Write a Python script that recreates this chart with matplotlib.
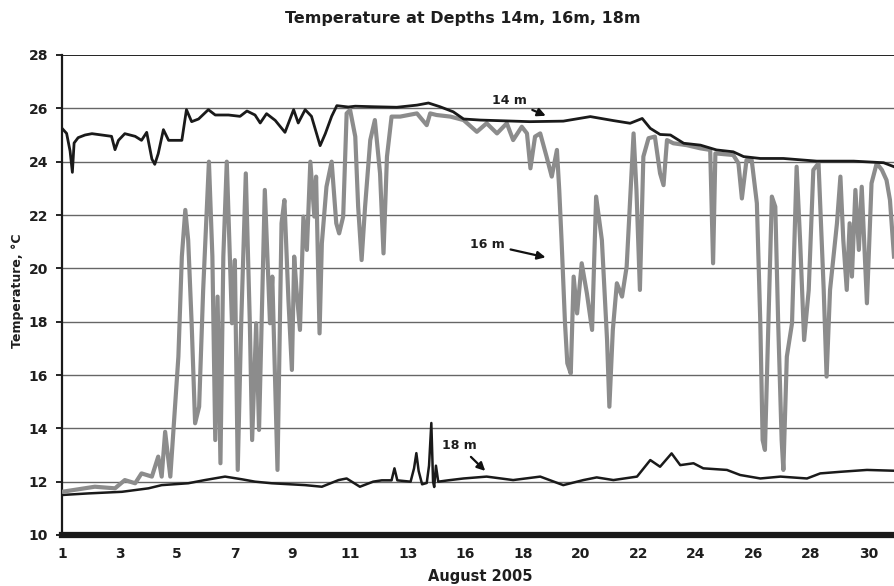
import matplotlib
matplotlib.use("Agg")
import matplotlib.pyplot as plt

# x is in tick-slot units: 0 = "1", 1 = "3", ... 14 = "30"
tick_labels = ["1", "3", "5", "7", "9", "11", "13", "16", "18", "20", "22", "24", "26", "28", "30"]

x14 = [0, 0.08, 0.14, 0.18, 0.21, 0.28, 0.40, 0.52, 0.69, 0.86, 0.92, 0.98, 1.09, 1.27, 1.38, 1.47,
       1.56, 1.61, 1.67, 1.76, 1.85, 1.96, 2.08, 2.16, 2.25, 2.37, 2.54, 2.66, 2.89, 3.09, 3.21, 3.35,
       3.44, 3.55, 3.70, 3.87, 4.02, 4.10, 4.22, 4.33, 4.48, 4.57, 4.68, 4.77, 4.97, 5.09, 5.41, 5.81,
       6.16, 6.36, 6.56, 6.79, 6.97, 7.26, 7.55, 8.12, 8.70, 9.17, 9.57, 9.86, 10.07, 10.21, 10.38,
       10.56, 10.79, 11.08, 11.36, 11.65, 11.83, 12.12, 12.52, 13.10, 13.74, 14.26, 14.44]
t14 = [25.25, 25.06, 24.4, 23.6, 24.7, 24.9, 25.0, 25.05, 25.0, 24.95, 24.45, 24.8, 25.05, 24.95, 24.8, 25.1,
       24.1, 23.9, 24.3, 25.2, 24.8, 24.8, 24.8, 25.95, 25.5, 25.6, 25.95, 25.75, 25.75, 25.7, 25.9, 25.75,
       25.45, 25.8, 25.55, 25.1, 25.95, 25.45, 25.95, 25.7, 24.6, 25.05, 25.7, 26.1, 26.05, 26.08, 26.06, 26.04,
       26.12, 26.2, 26.06, 25.87, 25.6, 25.56, 25.54, 25.5, 25.52, 25.69, 25.54, 25.44, 25.62, 25.25, 25.02,
       25.0, 24.69, 24.62, 24.44, 24.37, 24.19, 24.12, 24.12, 24.02, 24.02, 23.96, 23.81]

# 16 m, read in ten-point rows
x16 = [0, 0.57, 0.92, 1.09, 1.27, 1.38, 1.56, 1.67, 1.73, 1.79,
       1.88, 1.95, 2.02, 2.08, 2.14, 2.19, 2.25, 2.31, 2.38, 2.45,
       2.55, 2.61, 2.66, 2.70, 2.75, 2.80, 2.86, 2.95, 3.00, 3.05,
       3.11, 3.19, 3.26, 3.30, 3.37, 3.42, 3.52, 3.61, 3.65, 3.74,
       3.81, 3.86, 3.93, 3.99, 4.03, 4.07, 4.13, 4.19, 4.25, 4.31,
       4.38, 4.41, 4.47, 4.51, 4.59, 4.68, 4.76, 4.81, 4.88, 4.94,
       5.0, 5.09, 5.14, 5.20, 5.26, 5.35, 5.43, 5.52, 5.58, 5.64,
       5.72, 5.87, 6.16, 6.33, 6.39, 6.50, 6.74, 6.97, 7.20, 7.37,
       7.55, 7.72, 7.83, 7.98, 8.07, 8.13, 8.21, 8.30, 8.41, 8.50,
       8.59, 8.63, 8.67, 8.73, 8.77, 8.83, 8.88, 8.94, 9.02, 9.11,
       9.20, 9.27, 9.37, 9.46, 9.50, 9.56, 9.63, 9.72, 9.80, 9.86,
       9.92, 9.97, 10.03, 10.09, 10.18, 10.29, 10.38, 10.44, 10.50, 10.61,
       10.84, 11.08, 11.25, 11.30, 11.34, 11.65, 11.74, 11.80, 11.88, 11.97,
       12.06, 12.12, 12.16, 12.20, 12.26, 12.32, 12.38, 12.43, 12.49, 12.52,
       12.58, 12.67, 12.75, 12.81, 12.88, 12.96, 13.04, 13.13, 13.22, 13.27,
       13.33, 13.39, 13.45, 13.51, 13.56, 13.62, 13.67, 13.71, 13.77, 13.83,
       13.88, 13.97, 14.05, 14.14, 14.23, 14.31, 14.37, 14.44]
t16 = [11.62, 11.81, 11.75, 12.06, 11.94, 12.31, 12.19, 12.94, 12.19, 13.87,
       12.19, 14.44, 16.69, 20.44, 22.19, 21.06, 17.94, 14.19, 14.81, 19.19,
       24.0, 20.44, 13.56, 18.94, 12.69, 20.44, 24.0, 17.94, 20.31, 12.44,
       17.94, 23.56, 17.94, 13.56, 17.94, 13.94, 22.94, 17.94, 19.69, 12.44,
       21.69, 22.56, 18.81, 16.19, 20.44, 19.19, 17.69, 21.94, 20.69, 24.0,
       21.94, 23.44, 17.56, 20.94, 23.06, 24.0, 21.69, 21.31, 21.94, 25.81,
       25.94, 24.94, 22.31, 20.31, 22.31, 24.81, 25.56, 23.56, 20.56, 24.19,
       25.69, 25.69, 25.81, 25.37, 25.81, 25.75, 25.69, 25.56, 25.12, 25.44,
       25.06, 25.44, 24.81, 25.31, 25.06, 23.75, 24.94, 25.06, 24.19, 23.44,
       24.44, 22.94, 21.06, 17.94, 16.44, 16.06, 19.69, 18.31, 20.19, 19.06,
       17.69, 22.69, 21.06, 17.31, 14.81, 17.69, 19.44, 18.94, 20.06, 22.56,
       25.06, 22.94, 19.19, 24.19, 24.88, 24.94, 23.56, 23.12, 24.81, 24.69,
       24.62, 24.5, 24.44, 20.19, 24.31, 24.25, 23.94, 22.62, 24.06, 24.06,
       22.44, 17.94, 13.56, 13.19, 17.94, 22.69, 22.31, 17.94, 13.56, 12.44,
       16.69, 17.94, 23.81, 21.06, 17.31, 19.19, 23.69, 23.94, 19.19, 15.94,
       19.19, 20.44, 21.69, 23.44, 21.06, 19.19, 21.69, 19.69, 22.94, 20.69,
       23.06, 18.69, 23.19, 23.94, 23.69, 23.31, 22.56, 20.44]

x18 = [0, 0.46, 1.04, 1.50, 1.73, 2.19, 2.48, 2.83, 3.12, 3.35,
       3.64, 4.22, 4.51, 4.80, 4.94, 5.17, 5.40, 5.55, 5.72, 5.77,
       5.82, 6.05, 6.11, 6.15, 6.19, 6.25, 6.33, 6.37, 6.41, 6.44,
       6.46, 6.49, 6.53, 6.70, 6.97, 7.37, 7.83, 8.30, 8.70, 9.05,
       9.28, 9.57, 9.98, 10.21, 10.38, 10.58, 10.73, 10.96, 11.13, 11.54,
       11.77, 12.12, 12.47, 12.93, 13.16, 13.51, 13.97, 14.44]
t18 = [11.5, 11.56, 11.62, 11.75, 11.87, 11.94, 12.06, 12.19, 12.09, 12.0,
       11.94, 11.87, 11.81, 12.06, 12.12, 11.81, 12.0, 12.05, 12.05, 12.5,
       12.05, 12.0, 12.5, 13.07, 12.4, 11.9, 11.95, 12.6, 14.2, 12.0,
       11.8, 12.6, 12.0, 12.05, 12.12, 12.19, 12.06, 12.19, 11.87, 12.06,
       12.16, 12.06, 12.19, 12.81, 12.56, 13.06, 12.62, 12.69, 12.5, 12.44,
       12.25, 12.12, 12.19, 12.12, 12.31, 12.37, 12.44, 12.41]

bold = dict(fontweight="bold", family="DejaVu Sans", color="#1e1e1e")

fig = plt.figure(figsize=(8.94, 5.86), dpi=100)
ax = fig.add_axes([62 / 894, 51 / 586, 1 - 62 / 894, 480 / 586])

for y in range(12, 28, 2):
    ax.axhline(y, color="#666666", lw=1.0, zorder=1)
ax.axhline(28, color="#222222", lw=1.4, zorder=1)
ax.axhline(10, color="#1a1a1a", lw=4.5, zorder=5, clip_on=False)

ax.plot(x18, t18, color="#1a1a1a", lw=1.8, zorder=2)
ax.plot(x16, t16, color="#8c8c8c", lw=3.0, zorder=3)
ax.plot(x14, t14, color="#1a1a1a", lw=2.0, zorder=4)

ax.set_xlim(0, 14.44)
ax.set_ylim(10, 28)
ax.set_yticks(range(10, 29, 2))
ax.set_xticks(range(15))
ax.set_xticklabels(tick_labels)
ax.tick_params(axis="x", length=0, pad=9, labelsize=10, labelcolor="#1e1e1e")
ax.tick_params(axis="y", length=4, width=1.2, pad=6, labelsize=10, labelcolor="#1e1e1e")
for lab in ax.get_xticklabels() + ax.get_yticklabels():
    lab.set_fontweight("bold")

for s in ["top", "right", "bottom"]:
    ax.spines[s].set_visible(False)
ax.spines["left"].set_linewidth(1.6)
ax.spines["left"].set_color("#1a1a1a")

arrow = dict(arrowstyle="-|>", color="#111111", lw=1.6, mutation_scale=12)
ax.annotate("14 m", xy=(8.44, 25.68), xytext=(8.07, 26.31), ha="right", va="center",
            fontsize=9, arrowprops=arrow, **bold)
ax.annotate("16 m", xy=(8.44, 20.39), xytext=(7.69, 20.9), ha="right", va="center",
            fontsize=9, arrowprops=arrow, **bold)
ax.annotate("18 m", xy=(7.38, 12.33), xytext=(7.2, 13.35), ha="right", va="center",
            fontsize=9, arrowprops=arrow, **bold)

fig.text(463 / 894, 1 - 19 / 586, "Temperature at Depths 14m, 16m, 18m", ha="center", va="center",
         fontsize=11.5, **bold)
fig.text(480 / 894, 1 - 577 / 586, "August 2005", ha="center", va="center", fontsize=10.5, **bold)
fig.text(18 / 894, 1 - 291 / 586, "Temperature, \u00b0C", ha="center", va="center", rotation=90,
         fontsize=9, **bold)

fig.savefig("out.png", dpi=100)
